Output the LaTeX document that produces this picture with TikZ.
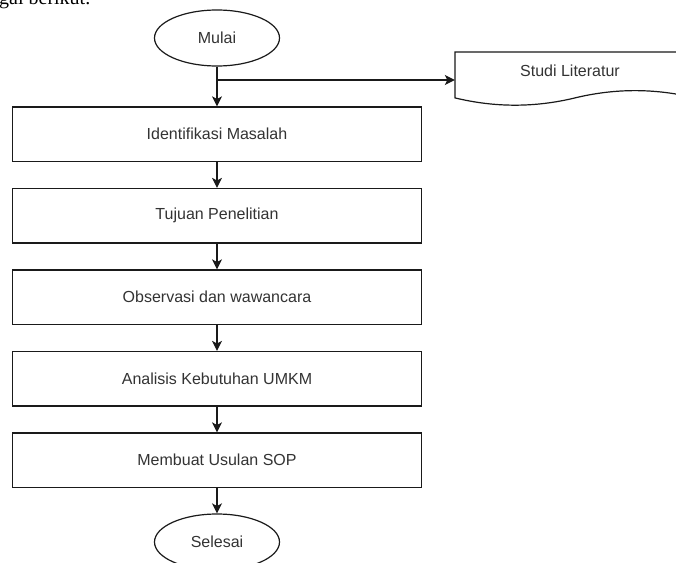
\documentclass[tikz,border=0pt]{standalone}
\usepackage{fontspec}
\setmainfont{Liberation Sans}
\newfontfamily\serifpart{Liberation Serif}
\usetikzlibrary{arrows.meta,shapes.geometric}
\definecolor{txt}{HTML}{333333}
\definecolor{ln}{HTML}{1A1A1A}
\begin{document}
\begin{tikzpicture}[x=1pt,y=-1pt,
  lbl/.style={font=\fontsize{16}{19}\selectfont, text=txt},
  proc/.style={lbl, draw=ln, line width=1.2pt, minimum width=409pt, minimum height=54.5pt, inner sep=0pt},
  term/.style={lbl, ellipse, draw=ln, line width=1.2pt, minimum width=125pt, minimum height=56pt, inner sep=0pt},
  line/.style={draw=ln, line width=1.2pt},
  conn/.style={line, -{Stealth[length=10pt,width=10pt,inset=2.5pt]}},
]
\useasboundingbox (0,0) rectangle (676,562);
\clip (0,0) rectangle (676,562);
\fill[white] (0,0) rectangle (676,562);

% cut-off caption text at the top
\node[anchor=base west, inner sep=0pt, font=\serifpart\fontsize{20}{24}\selectfont] (cap) at (-1,5) {gai berikut.};

% terminals
\node[term] (mulai) at (217,38) {Mulai};
\node[term] (selesai) at (217,542) {Selesai};

% process boxes
\node[proc] (b1) at (217,134.25) {Identifikasi Masalah};
\node[proc] (b2) at (217,215.75) {Tujuan Penelitian};
\node[proc] (b3) at (217,297.25) {Observasi dan wawancara};
\node[proc] (b4) at (217,378.75) {Analisis Kebutuhan UMKM};
\node[proc] (b5) at (217,460.25) {Membuat Usulan SOP};

% document shape: Studi Literatur
\node[minimum width=240pt, minimum height=54pt, inner sep=0pt] (studi) at (575,80) {};
\draw[line, line join=miter] (455,52) -- (695,52) -- (695,97.9)
  .. controls (655,88.2) and (615,88.2) .. (575,97.9)
  .. controls (535,107.6) and (495,107.6) .. (455,97.9)
  -- cycle;
\node[lbl] (studitxt) at (570,71) {Studi Literatur};

% connectors
\coordinate (br) at (mulai.south |- studi.west);
\draw[conn] (mulai.south) -- (b1.north);
\draw[conn] (br) -- (studi.west);
\draw[conn] (b1.south) -- (b2.north);
\draw[conn] (b2.south) -- (b3.north);
\draw[conn] (b3.south) -- (b4.north);
\draw[conn] (b4.south) -- (b5.north);
\draw[conn] (b5.south) -- (selesai.north);
\end{tikzpicture}
\end{document}
